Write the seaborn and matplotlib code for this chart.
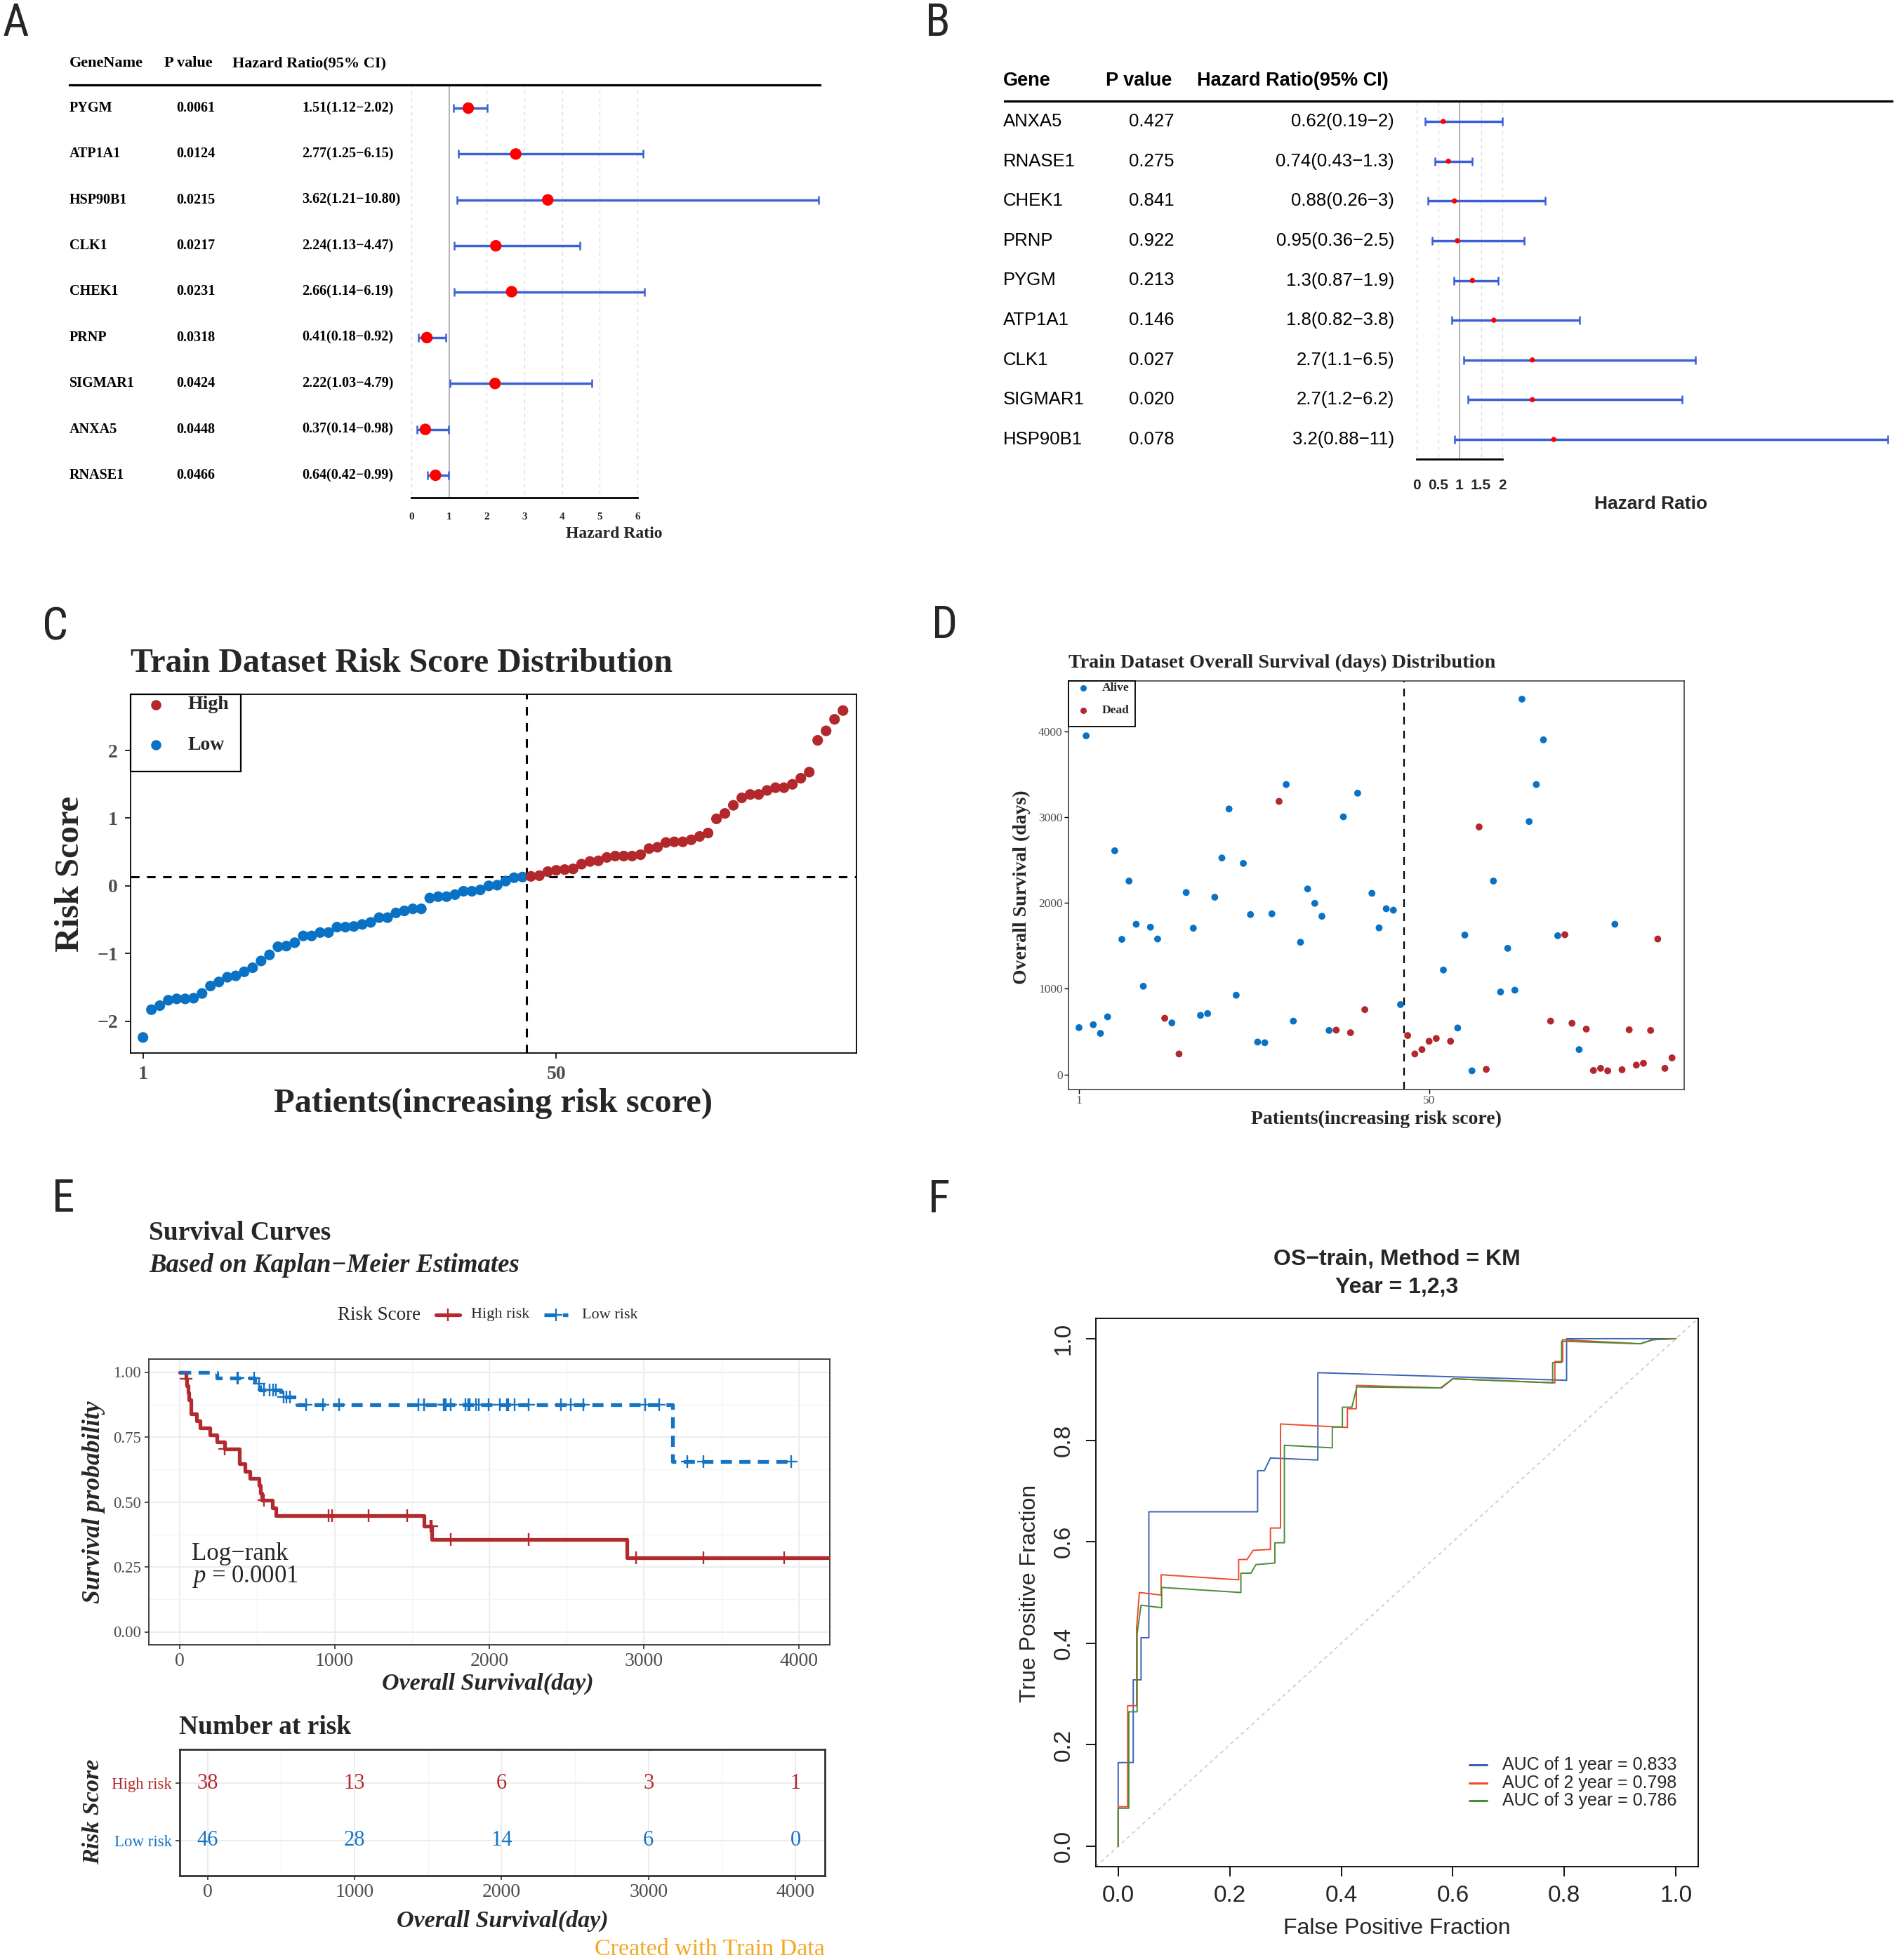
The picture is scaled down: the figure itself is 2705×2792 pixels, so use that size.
import numpy as np
import pandas as pd
import matplotlib
matplotlib.use("Agg")
import matplotlib.pyplot as plt
import matplotlib.transforms as mtrans
from matplotlib.lines import Line2D
from matplotlib.patches import Rectangle
from matplotlib import font_manager as fm
import seaborn as sns

# ----------------------------------------------------------------- data
# Panel A : univariate Cox
genes_A = ['PYGM', 'ATP1A1', 'HSP90B1', 'CLK1', 'CHEK1', 'PRNP', 'SIGMAR1', 'ANXA5', 'RNASE1']
p_A = [0.0061, 0.0124, 0.0215, 0.0217, 0.0231, 0.0318, 0.0424, 0.0448, 0.0466]
hr_A = [1.51, 2.77, 3.62, 2.24, 2.66, 0.41, 2.22, 0.37, 0.64]
lo_A = [1.12, 1.25, 1.21, 1.13, 1.14, 0.18, 1.03, 0.14, 0.42]
hi_A = [2.02, 6.15, 10.80, 4.47, 6.19, 0.92, 4.79, 0.98, 0.99]
ticks_A = [0, 1, 2, 3, 4, 5, 6]

# Panel B : multivariate Cox
genes_B = ['ANXA5', 'RNASE1', 'CHEK1', 'PRNP', 'PYGM', 'ATP1A1', 'CLK1', 'SIGMAR1', 'HSP90B1']
p_B = [0.427, 0.275, 0.841, 0.922, 0.213, 0.146, 0.027, 0.020, 0.078]
hr_B = [0.62, 0.74, 0.88, 0.95, 1.3, 1.8, 2.7, 2.7, 3.2]
lo_B = [0.19, 0.43, 0.26, 0.36, 0.87, 0.82, 1.1, 1.2, 0.88]
hi_B = [2, 1.3, 3, 2.5, 1.9, 3.8, 6.5, 6.2, 11]
ticks_B = [0, 0.5, 1, 1.5, 2]

# Panel C : risk score per patient (sorted)
risk_score = [-2.24, -1.83, -1.77, -1.69, -1.67, -1.67, -1.66, -1.59, -1.48, -1.42,
              -1.35, -1.33, -1.27, -1.21, -1.11, -1.02, -0.90, -0.89, -0.84, -0.74,
              -0.74, -0.69, -0.69, -0.61, -0.61, -0.60, -0.57, -0.54, -0.47, -0.47,
              -0.40, -0.37, -0.34, -0.34, -0.18, -0.16, -0.16, -0.13, -0.08, -0.08,
              -0.06, 0.00, 0.01, 0.07, 0.12, 0.13, 0.14, 0.15, 0.21, 0.23,
              0.24, 0.25, 0.32, 0.36, 0.37, 0.42, 0.44, 0.44, 0.44, 0.46,
              0.55, 0.57, 0.64, 0.65, 0.65, 0.68, 0.73, 0.78, 0.99, 1.07,
              1.19, 1.30, 1.35, 1.35, 1.41, 1.45, 1.45, 1.50, 1.59, 1.68,
              2.15, 2.29, 2.46, 2.59]
risk_cutoff = 0.135

# Panel D : overall survival (days) and status (1 = dead) per patient
os_days = [546, 3950, 580, 479, 672, 2609, 1576, 2256, 1752, 1029,
           1718, 1580, 655, 601, 239, 2122, 1706, 689, 710, 2067,
           2525, 3097, 924, 2462, 1865, 378, 370, 1874, 3185, 3382,
           622, 1542, 2164, 1996, 1845, 513, 517, 3005, 487, 3281,
           756, 2113, 1710, 1933, 1916, 815, 454, 239, 290, 387,
           420, 1218, 387, 542, 1626, 42, 2887, 59, 2256, 962,
           1471, 983, 4378, 2950, 3382, 3903, 622, 1618, 1630, 597,
           290, 529, 46, 71, 42, 1752, 55, 521, 109, 130,
           513, 1580, 71, 193]
os_status = [0, 0, 0, 0, 0, 0, 0, 0, 0, 0,
             0, 0, 1, 0, 1, 0, 0, 0, 0, 0,
             0, 0, 0, 0, 0, 0, 0, 0, 1, 0,
             0, 0, 0, 0, 0, 0, 1, 0, 1, 0,
             1, 0, 0, 0, 0, 0, 1, 1, 1, 1,
             1, 0, 1, 0, 0, 0, 1, 1, 0, 0,
             0, 0, 0, 0, 0, 0, 1, 0, 1, 1,
             0, 1, 1, 1, 1, 0, 1, 1, 1, 1,
             1, 1, 1, 1]

# Panel E
risk_times = [0, 1000, 2000, 3000, 4000]
logrank_p = "0.0001"

# Panel F : time-dependent ROC curves
roc_fpr_1 = [0, 0, 0.027, 0.027, 0.041, 0.041, 0.055, 0.055, 0.250, 0.250, 0.262, 0.273,
             0.358, 0.358, 0.804, 0.804, 1.0]
roc_tpr_1 = [0, 0.165, 0.165, 0.328, 0.328, 0.411, 0.411, 0.659, 0.659, 0.740, 0.740, 0.765,
             0.761, 0.933, 0.918, 1.0, 1.0]
roc_fpr_2 = [0, 0, 0.017, 0.017, 0.033, 0.033, 0.038, 0.077, 0.077, 0.216, 0.216, 0.231, 0.242,
             0.273, 0.273, 0.291, 0.291, 0.411, 0.411, 0.427, 0.427, 0.580, 0.600, 0.783, 0.783,
             0.797, 0.797, 0.936, 0.959, 1.0]
roc_tpr_2 = [0, 0.078, 0.078, 0.277, 0.277, 0.43, 0.50, 0.495, 0.535, 0.525, 0.565, 0.565, 0.583,
             0.585, 0.627, 0.627, 0.832, 0.825, 0.862, 0.862, 0.908, 0.903, 0.921, 0.913, 0.955,
             0.955, 0.998, 0.990, 0.998, 1.0]
roc_fpr_3 = [0, 0, 0.019, 0.019, 0.034, 0.034, 0.041, 0.078, 0.078, 0.220, 0.220, 0.238, 0.247,
             0.281, 0.281, 0.298, 0.298, 0.384, 0.384, 0.402, 0.402, 0.419, 0.428, 0.578, 0.600,
             0.779, 0.779, 0.795, 0.795, 0.936, 0.959, 1.0]
roc_tpr_3 = [0, 0.075, 0.075, 0.265, 0.265, 0.42, 0.475, 0.47, 0.51, 0.50, 0.538, 0.538, 0.555,
             0.558, 0.598, 0.598, 0.79, 0.785, 0.826, 0.826, 0.865, 0.865, 0.905, 0.903, 0.921,
             0.913, 0.953, 0.953, 0.995, 0.990, 0.998, 1.0]
roc_years = [1, 2, 3]
roc_auc = [0.833, 0.798, 0.786]

# ----------------------------------------------------------------- style
W, H, DPI = 2705, 2792, 100
avail = {f.name for f in fm.fontManager.ttflist}


def pick(*names):
    for n in names:
        if n in avail:
            return n
    return 'DejaVu Sans'


SERIF = pick('Liberation Serif', 'DejaVu Serif')
SANS = pick('Liberation Sans', 'Arial', 'DejaVu Sans')
NARROW = pick('Liberation Sans Narrow', 'Roboto Condensed', 'Liberation Sans')

sns.set_theme(style='white')
plt.rcParams['font.family'] = [SERIF, 'DejaVu Serif']
plt.rcParams['mathtext.fontset'] = 'custom'
plt.rcParams['mathtext.rm'] = SERIF
plt.rcParams['mathtext.it'] = SERIF + ':italic'
plt.rcParams['axes.unicode_minus'] = True

C_HIGH = '#B2282C'
C_LOW = '#0A72C4'
TICKGRAY = '#4D4D4D'

fig = plt.figure(figsize=(W / DPI, H / DPI), dpi=DPI)
fig.patch.set_facecolor('white')
PX = mtrans.Affine2D().scale(1.0 / W, -1.0 / H).translate(0, 1) + fig.transFigure


def ax_px(l, t, r, b):
    return fig.add_axes([l / W, 1 - b / H, (r - l) / W, (b - t) / H])


def txt(x, y, s, **kw):
    kw.setdefault('va', 'center')
    return fig.text(x, y, s, transform=PX, **kw)


def line_px(xs, ys, **kw):
    fig.add_artist(Line2D(xs, ys, transform=PX, **kw))


# panel letters
for letter, x, y in [('A', 4, 51), ('B', 1318, 51), ('C', 60, 912),
                     ('D', 1327, 909), ('E', 74, 1726), ('F', 1322, 1727)]:
    txt(x, y, letter, family=NARROW, fontsize=47, va='baseline', ha='left')


# ----------------------------------------------------------------- forest helper
def forest(genes, hr, lo, hi, ticks, left, right, x0, x_at, xval_at, top_line, row0, rowN,
           axis_y, ci_color, pt_size, lw, cap, grid_vals):
    ax = ax_px(left, top_line, right, axis_y)
    n = len(genes)
    rows = np.arange(n)
    u = (x_at - x0) / xval_at
    rp = (rowN - row0) / (n - 1)
    for v in grid_vals:
        ax.plot([v, v], [-1, n + 1], color='#D9D9D9', lw=0.9, ls=(0, (4, 4)), zorder=0)
    ax.plot([1, 1], [-1, n + 1], color='#ABABAB', lw=1.3, zorder=0)
    hr = np.asarray(hr, float)
    lo = np.asarray(lo, float)
    hi = np.asarray(hi, float)
    ax.errorbar(hr, rows, xerr=[hr - lo, hi - hr], fmt='none', ecolor=ci_color,
                elinewidth=lw, capsize=cap, capthick=1.8, zorder=2)
    sns.scatterplot(x=hr, y=rows, ax=ax, color='#FF0000', s=pt_size, edgecolor='none',
                    zorder=3, legend=False)
    ax.set_xlim(-(x0 - left) / u, (right - x0) / u)
    ax.set_ylim((axis_y - row0) / rp, -(row0 - top_line) / rp)
    ax.set_xlabel('')
    ax.set_ylabel('')
    ax.set_yticks([])
    ax.set_facecolor('none')
    for s in ['left', 'right']:
        ax.spines[s].set_visible(False)
    ax.spines['top'].set_linewidth(2.3)
    ax.spines['top'].set_color('black')
    ax.spines['bottom'].set_linewidth(2.0)
    ax.spines['bottom'].set_color('black')
    ax.spines['bottom'].set_bounds(ticks[0], ticks[-1])
    return ax, rp


# ----------------------------------------------------------------- Panel A
axA, rpA = forest(genes_A, hr_A, lo_A, hi_A, ticks_A, 99, 1168, 586, 908, 6.0, 121, 154, 677,
                  709, '#3A62D6', 140, 2.5, 4.5, [0, 2, 3, 4, 5, 6])
axA.set_xticks(ticks_A)
axA.set_xticklabels([str(t) for t in ticks_A], fontsize=11, fontweight='bold', family=SERIF)
axA.tick_params(axis='x', direction='out', length=7, width=1.6, pad=8, color='black')
hdrA = dict(fontsize=16, fontweight='bold', family=SERIF, color='black')
txt(99, 90, 'GeneName', **hdrA)
txt(234, 90, 'P value', **hdrA)
txt(331, 90, 'Hazard Ratio(95% CI)', **hdrA)
rowA = dict(fontsize=14.5, fontweight='bold', family=SERIF, color='black')
for i, (g, p, h, l, u) in enumerate(zip(genes_A, p_A, hr_A, lo_A, hi_A)):
    y = 154 + i * rpA
    txt(99, y, g, **rowA)
    txt(251, y, f'{p:.4f}', **rowA)
    txt(430, y, f'{h:.2f}({l:.2f}\u2212{u:.2f})', **rowA)
txt(875, 760, 'Hazard Ratio', ha='center', fontsize=17, fontweight='bold', family=SERIF)

# ----------------------------------------------------------------- Panel B
axB, rpB = forest(genes_B, hr_B, lo_B, hi_B, ticks_B, 1431, 2695, 2018, 2140, 2.0, 144, 173, 626,
                  654, '#3A5FD8', 28, 2.5, 4.0, [0, 0.5, 1.5, 2])
axB.set_xticks(ticks_B)
axB.set_xticklabels([f'{t:g}' for t in ticks_B], fontsize=15, fontweight='bold', family=SANS)
axB.tick_params(axis='x', direction='out', length=9, width=1.6, pad=11, color='black')
hdrB = dict(fontsize=19.5, fontweight='bold', family=SANS, color='black')
txt(1429, 115, 'Gene', **hdrB)
txt(1575, 115, 'P value', **hdrB)
txt(1705, 115, 'Hazard Ratio(95% CI)', **hdrB)
rowB = dict(fontsize=18.5, family=SANS, color='black')
for i, (g, p, h, l, u) in enumerate(zip(genes_B, p_B, hr_B, lo_B, hi_B)):
    y = 173 + i * rpB
    txt(1429, y, g, **rowB)
    txt(1608, y, f'{p:.3f}', **rowB)
    txt(1986, y, f'{h:.2g}({l:.2g}\u2212{u:.2g})', ha='right', **rowB)
txt(2352, 718, 'Hazard Ratio', ha='center', fontsize=19, fontweight='bold', family=SANS)

# ----------------------------------------------------------------- shared patient table
n_pat = len(risk_score)
df = pd.DataFrame({'patient': np.arange(1, n_pat + 1), 'risk': risk_score,
                   'time': os_days, 'status': os_status})
df['group'] = np.where(df['risk'] >= risk_cutoff, 'High', 'Low')
df['state'] = np.where(df['status'] == 1, 'Dead', 'Alive')
n_low = int((df['group'] == 'Low').sum())

# ----------------------------------------------------------------- Panel C
axC = ax_px(186, 989, 1220, 1500)
sns.scatterplot(data=df, x='patient', y='risk', hue='group', palette={'High': C_HIGH, 'Low': C_LOW},
                s=120, edgecolor='none', legend=False, ax=axC, zorder=3)
axC.axvline(n_low + 0.5, color='black', lw=2.2, ls=(0, (4, 3.5)), zorder=2)
axC.axhline(risk_cutoff, color='black', lw=2.2, ls=(0, (4, 3.5)), zorder=2)
axC.set_xlim(-0.47, 85.6)
axC.set_ylim(-2.47, 2.83)
axC.set_xticks([1, 50])
axC.set_yticks([-2, -1, 0, 1, 2])
axC.set_xlabel('')
axC.set_ylabel('')
for lab in axC.get_xticklabels() + axC.get_yticklabels():
    lab.set_fontweight('bold')
    lab.set_fontsize(20)
    lab.set_color(TICKGRAY)
axC.tick_params(direction='out', length=6, width=1.2, color='black', pad=7, left=True, bottom=True)
for s in axC.spines.values():
    s.set_color('black')
    s.set_linewidth(1.3)
txt(186, 945, 'Train Dataset Risk Score Distribution', fontsize=34.5, fontweight='bold')
txt(100, 1245, 'Risk Score', rotation=90, ha='center', fontsize=35, fontweight='bold')
txt(703, 1572, 'Patients(increasing risk score)', ha='center', fontsize=35, fontweight='bold')
fig.add_artist(Rectangle((186, 989), 157, 110, transform=PX, fill=True, fc='white',
                         ec='black', lw=1.6, zorder=5))
for lab, col, y in [('High', C_HIGH, 1004), ('Low', C_LOW, 1061)]:
    line_px([222], [y], marker='o', ms=10.5, color=col, mec='none', ls='none', zorder=6)
    txt(268, y, lab, fontsize=20, fontweight='bold', zorder=6)

# ----------------------------------------------------------------- Panel D
axD = ax_px(1522, 970, 2399, 1552)
sns.scatterplot(data=df, x='patient', y='time', hue='state', palette={'Alive': C_LOW, 'Dead': C_HIGH},
                s=50, edgecolor='none', legend=False, ax=axD, zorder=3)
axD.axvline(n_low + 0.5, color='black', lw=1.6, ls=(0, (5, 4)), zorder=2)
axD.set_xlim(-0.47, 85.7)
axD.set_ylim(-176, 4590)
axD.set_xticks([1, 50])
axD.set_yticks([0, 1000, 2000, 3000, 4000])
axD.set_xlabel('')
axD.set_ylabel('')
for lab in axD.get_xticklabels() + axD.get_yticklabels():
    lab.set_fontsize(12.5)
    lab.set_color(TICKGRAY)
axD.tick_params(direction='out', length=4, width=1.0, color='black', pad=2, left=True, bottom=True)
for s in axD.spines.values():
    s.set_color('#333333')
    s.set_linewidth(1.1)
txt(1522, 944, 'Train Dataset Overall Survival (days) Distribution', fontsize=20.3, fontweight='bold')
txt(1455, 1264, 'Overall Survival (days)', rotation=90, ha='center', fontsize=20, fontweight='bold')
txt(1961, 1594, 'Patients(increasing risk score)', ha='center', fontsize=20, fontweight='bold')
fig.add_artist(Rectangle((1522, 970), 95, 65, transform=PX, fill=True, fc='white',
                         ec='black', lw=1.3, zorder=5))
for lab, col, y in [('Alive', C_LOW, 980), ('Dead', C_HIGH, 1012)]:
    line_px([1543], [y], marker='o', ms=6.5, color=col, mec='none', ls='none', zorder=6)
    txt(1570, y, lab, fontsize=12.5, fontweight='bold', zorder=6)


# ----------------------------------------------------------------- Panel E (Kaplan-Meier)
def kaplan_meier(times, events):
    t = np.asarray(times, float)
    e = np.asarray(events, int)
    xs, ys = [0.0], [1.0]
    s = 1.0
    for u in np.unique(t[e == 1]):
        n = np.sum(t >= u)
        d = np.sum((t == u) & (e == 1))
        s *= 1.0 - d / n
        xs.append(u)
        ys.append(s)
    xs.append(t.max())
    ys.append(s)
    xs, ys = np.array(xs), np.array(ys)
    ct = t[e == 0]
    cs = np.array([ys[np.searchsorted(xs[:-1], c, side='right') - 1] for c in ct])
    return xs, ys, ct, cs


KM_HIGH = '#B22A2E'
KM_LOW = '#1473C3'
axE = ax_px(212, 1936, 1182, 2343)
axE.set_facecolor('white')
for grp, col, ls in [('High', KM_HIGH, '-'), ('Low', KM_LOW, (0, (3.0, 2.0)))]:
    sub = df[df['group'] == grp]
    xs, ys, ct, cs = kaplan_meier(sub['time'], sub['status'])
    sns.lineplot(x=xs, y=ys, ax=axE, color=col, lw=3.8, drawstyle='steps-post',
                 estimator=None, sort=False, linestyle=ls, zorder=3)
    axE.plot(ct, cs, ls='none', marker='+', ms=13, mew=1.7, color=col, zorder=4)
axE.set_xlim(-200, 4200)
axE.set_ylim(-0.05, 1.05)
axE.set_xticks(risk_times)
axE.set_xticks([500, 1500, 2500, 3500], minor=True)
axE.set_yticks([0, 0.25, 0.5, 0.75, 1.0])
axE.set_yticks([0.125, 0.375, 0.625, 0.875], minor=True)
axE.set_yticklabels([f'{v:.2f}' for v in [0, 0.25, 0.5, 0.75, 1.0]], fontsize=16.5, color=TICKGRAY)
axE.set_xticklabels([str(v) for v in risk_times], fontsize=20, color=TICKGRAY)
axE.grid(True, which='major', color='#EBEBEB', lw=1.3, zorder=0)
axE.grid(True, which='minor', color='#F4F4F4', lw=0.9, zorder=0)
axE.set_axisbelow(True)
axE.tick_params(which='major', direction='out', length=4, width=1.2, color='#333333', pad=4,
                left=True, bottom=True)
axE.tick_params(which='minor', length=0)
axE.set_xlabel('')
axE.set_ylabel('')
for s in axE.spines.values():
    s.set_color('#333333')
    s.set_linewidth(1.3)
txt(212, 1756, 'Survival Curves', fontsize=27, fontweight='bold')
txt(212, 1803, 'Based on Kaplan\u2212Meier Estimates', fontsize=26.5, fontweight='bold', style='italic')
txt(481, 1873, 'Risk Score', fontsize=19.5)
line_px([621, 655], [1873, 1873], color=KM_HIGH, lw=3.8)
line_px([638], [1873], marker='+', ms=13, mew=1.7, color=KM_HIGH, ls='none')
txt(671, 1873, 'High risk', fontsize=16)
line_px([775, 809], [1873, 1873], color=KM_LOW, lw=3.8, ls=(0, (3.0, 2.0)))
line_px([792], [1873], marker='+', ms=13, mew=1.7, color=KM_LOW, ls='none')
txt(829, 1873, 'Low risk', fontsize=16)
txt(273, 2213, 'Log\u2212rank', fontsize=25)
txt(273, 2246, '$p$ = ' + logrank_p, fontsize=25)
txt(134, 2140, 'Survival probability', rotation=90, ha='center', fontsize=25.5, fontweight='bold',
    style='italic')
txt(695, 2398, 'Overall Survival(day)', ha='center', fontsize=24.5, fontweight='bold', style='italic')

# ----------------------------------------------------------------- risk table
axT = ax_px(256, 2492, 1175, 2672)
axT.set_xlim(-190, 4200)
axT.set_ylim(-0.62, 1.593)
for grp, col, yv in [('High', KM_HIGH, 1), ('Low', KM_LOW, 0)]:
    tt = df.loc[df['group'] == grp, 'time'].to_numpy()
    for t0 in risk_times:
        axT.text(t0, yv, str(int(np.sum(tt >= t0))), ha='center', va='center', fontsize=22, color=col)
axT.set_xticks(risk_times)
axT.set_xticks([500, 1500, 2500, 3500], minor=True)
axT.set_yticks([0, 1])
axT.set_yticklabels(['Low risk', 'High risk'], fontsize=16.5)
axT.get_yticklabels()[0].set_color(KM_LOW)
axT.get_yticklabels()[1].set_color(KM_HIGH)
axT.set_xticklabels([str(v) for v in risk_times], fontsize=20, color=TICKGRAY)
axT.grid(True, which='major', color='#EBEBEB', lw=1.3, zorder=0)
axT.grid(True, which='minor', axis='x', color='#F4F4F4', lw=0.9, zorder=0)
axT.set_axisbelow(True)
axT.tick_params(which='major', direction='out', length=4, width=1.2, color='#333333', pad=4,
                left=True, bottom=True)
axT.tick_params(which='minor', length=0)
for s in axT.spines.values():
    s.set_color('#333333')
    s.set_linewidth(2.0)
txt(255, 2460, 'Number at risk', fontsize=27, fontweight='bold')
txt(133, 2581, 'Risk Score', rotation=90, ha='center', fontsize=24.5, fontweight='bold', style='italic')
txt(716, 2736, 'Overall Survival(day)', ha='center', fontsize=24.5, fontweight='bold', style='italic')
txt(1175, 2777, 'Created with Train Data', ha='right', fontsize=24.5, color='#F5A623')

# ----------------------------------------------------------------- Panel F (ROC)
axF = ax_px(1561, 1878, 2419, 2659)
axF.plot([-0.04, 1.04], [-0.04, 1.04], ls=(0, (3, 3)), color='#C8C8C8', lw=1.2, zorder=1)
roc_cols = ['#3D63B5', '#EE4B2B', '#4A8B3A']
for fpr, tpr, col in zip([roc_fpr_1, roc_fpr_2, roc_fpr_3], [roc_tpr_1, roc_tpr_2, roc_tpr_3], roc_cols):
    sns.lineplot(x=fpr, y=tpr, ax=axF, color=col, lw=1.4, estimator=None, sort=False, zorder=3)
axF.set_xlim(-0.04, 1.04)
axF.set_ylim(-0.04, 1.04)
tk = [0, 0.2, 0.4, 0.6, 0.8, 1.0]
axF.set_xticks(tk)
axF.set_yticks(tk)
axF.set_xticklabels([f'{v:.1f}' for v in tk], fontsize=24, family=SANS)
axF.set_yticklabels([f'{v:.1f}' for v in tk], fontsize=24, family=SANS, rotation=90, va='center')
axF.tick_params(direction='out', length=10, width=1.3, color='black', left=True, bottom=True)
axF.tick_params(axis='x', pad=9)
axF.tick_params(axis='y', pad=12)
axF.set_xlabel('')
axF.set_ylabel('')
for s in axF.spines.values():
    s.set_color('black')
    s.set_linewidth(1.3)
txt(1990, 1794, 'OS\u2212train, Method = KM', ha='center', fontsize=23, fontweight='bold', family=SANS)
txt(1990, 1834, 'Year = 1,2,3', ha='center', fontsize=23, fontweight='bold', family=SANS)
txt(1990, 2747, 'False Positive Fraction', ha='center', fontsize=23, family=SANS)
txt(1467, 2270, 'True Positive Fraction', rotation=90, ha='center', fontsize=23, family=SANS)
for i, (yr, auc, col) in enumerate(zip(roc_years, roc_auc, roc_cols)):
    y = 2514 + i * 25.5
    line_px([2093, 2118], [y, y], color=col, lw=2.2)
    txt(2140, y, f'AUC of {yr} year = {auc:.3f}', fontsize=18, family=SANS)

fig.savefig('out.png', dpi=DPI, facecolor='white')
